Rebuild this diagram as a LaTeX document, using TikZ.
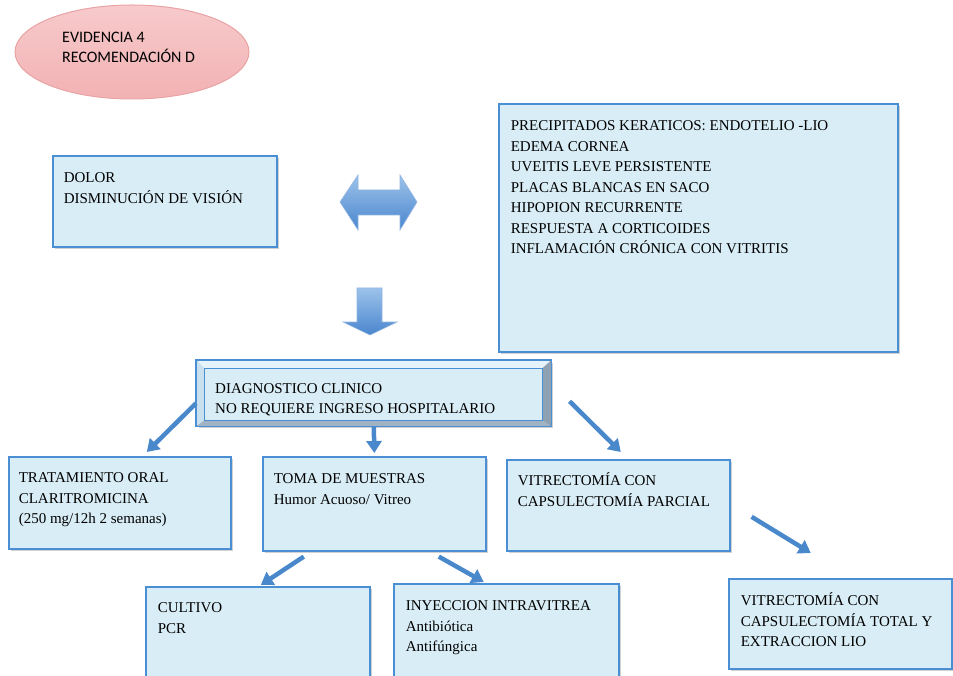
\documentclass[tikz,border=0pt]{standalone}
\usepackage{fontspec}
\setmainfont{Liberation Serif}
\newfontfamily\ellfont{Carlito}
\usetikzlibrary{arrows.meta,shadows,calc,shapes.geometric}
\definecolor{boxfill}{HTML}{D9EDF6}
\definecolor{boxline}{HTML}{4A8FD3}
\definecolor{arrowblue}{HTML}{4A88CC}
\definecolor{pinkfill}{HTML}{F2B2B4}
\definecolor{pinktop}{HTML}{F7CACB}
\definecolor{pinkline}{HTML}{E9A3A5}
\definecolor{bevlight}{HTML}{E6F3FA}
\definecolor{bevleft}{HTML}{C9E0EE}
\definecolor{bevright}{HTML}{8FA2B4}
\definecolor{bevbottom}{HTML}{A1B2C2}
\definecolor{blocktop}{HTML}{9CC2EA}
\definecolor{blockbot}{HTML}{4A86CE}
\newcommand\boxtext[5]{\parbox[c][#2pt][t]{#1pt}{\vspace*{#4pt}\fontsize{15}{20.5}\selectfont\raggedright\leftskip=#5pt\relax\strut #3}}
\tikzset{
  box/.style={draw=boxline, line width=1.6pt, fill=boxfill, inner sep=0pt, anchor=north west,
    drop shadow={shadow xshift=2pt, shadow yshift=-2.5pt, fill=black!40, opacity=.45}},
  conn/.style={draw=arrowblue, line width=4.5pt, -{Triangle[length=12pt,width=15pt]}},
  block/.style={top color=blocktop, bottom color=blockbot, draw=blockbot!60, line width=0.6pt},
}
\begin{document}
\begin{tikzpicture}[x=1pt,y=-1pt]
\useasboundingbox[fill=white] (0,0) rectangle (953,676);
% ellipse
\node[ellipse, minimum width=234pt, minimum height=94pt, draw=pinkline, line width=1pt,
  top color=pinktop, bottom color=pinkfill, inner sep=0pt] (evid) at (132,52) {};
\node[anchor=base west, inner sep=0pt, align=left, font={\ellfont\fontsize{16}{20.5}\selectfont}] (evtxt) at (62,63) {EVIDENCIA 4\\RECOMENDACIÓN D};
% boxes
\node[box] (dolor) at (52,155) {\boxtext{224}{91}{DOLOR\\DISMINUCIÓN DE VISIÓN}{12.5}{11}};
\node[box] (signos) at (498,103) {\boxtext{399}{248}{PRECIPITADOS KERATICOS: ENDOTELIO -LIO\\EDEMA CORNEA\\UVEITIS LEVE PERSISTENTE\\PLACAS BLANCAS EN SACO\\HIPOPION RECURRENTE\\RESPUESTA A CORTICOIDES\\INFLAMACIÓN CRÓNICA CON VITRITIS}{12.5}{12}};
\node[box] (diag) at (196,360) {\boxtext{354}{65}{}{0}{0}};
\fill[bevlight] (diag.north west) -- (diag.north east) -- ($(diag.north east)+(-9,8)$) -- ($(diag.north west)+(8,8)$) -- cycle;
\fill[bevleft] (diag.north west) -- ($(diag.north west)+(8,8)$) -- ($(diag.south west)+(8,-6)$) -- (diag.south west) -- cycle;
\fill[bevright] (diag.north east) -- ($(diag.north east)+(-9,8)$) -- ($(diag.south east)+(-9,-6)$) -- (diag.south east) -- cycle;
\fill[bevbottom] (diag.south west) -- ($(diag.south west)+(8,-6)$) -- ($(diag.south east)+(-9,-6)$) -- (diag.south east) -- cycle;
\draw[boxline, line width=0.5pt] ($(diag.north west)+(8,8)$) rectangle ($(diag.south east)+(-9,-6)$);
\draw[boxline, line width=1.6pt] (diag.north west) rectangle (diag.south east);
\node[anchor=north west, inner sep=0pt] (diagtxt) at (196,360) {\boxtext{354}{65}{DIAGNOSTICO CLINICO\\NO REQUIERE INGRESO HOSPITALARIO}{18.5}{19}};
\node[box] (trat) at (8,456) {\boxtext{222}{92}{TRATAMIENTO ORAL\\CLARITROMICINA\\(250 mg/12h 2 semanas)}{11.5}{10}};
\node[box] (toma) at (262,456) {\boxtext{223}{94}{TOMA DE MUESTRAS\\Humor Acuoso/ Vitreo}{12.5}{11}};
\node[box] (vit1) at (506,459) {\boxtext{223}{91}{VITRECTOMÍA CON\\CAPSULECTOMÍA PARCIAL}{11.5}{11}};
\node[box] (cult) at (145,586) {\boxtext{224}{100}{CULTIVO\\PCR}{11.5}{12}};
\node[box] (iny) at (393,583) {\boxtext{225}{100}{INYECCION INTRAVITREA\\Antibiótica\\Antifúngica}{12.5}{12}};
\node[box] (vit2) at (728,578) {\boxtext{223}{90}{VITRECTOMÍA CON\\CAPSULECTOMÍA TOTAL Y\\EXTRACCION LIO}{12.5}{12}};
% block arrows
\shade[block] (340,202) -- (358,175) -- (358,190) -- (400,190) -- (400,175) -- (417,202)
  -- (400,230) -- (400,215) -- (358,215) -- (358,230) -- cycle;
\shade[block] (357,288) -- (382,288) -- (382,322) -- (397,322) -- (370,335) -- (343,322) -- (357,322) -- cycle;
% connectors
\draw[conn] ([yshift=-10pt]diag.west) -- ([xshift=27pt,yshift=4pt]trat.north);
\draw[conn] (diag.south) -- ([yshift=3pt]toma.north);
\draw[conn] ([xshift=18pt,yshift=-8pt]diag.east) -- ([xshift=2.5pt,yshift=7pt]vit1.north);
\draw[conn] ([xshift=21pt,yshift=-11.5pt]vit1.east) -- ([xshift=-29.5pt,yshift=25pt]vit2.north);
\draw[conn] ([xshift=-70.5pt,yshift=-5pt]toma.south) -- ([xshift=3pt,yshift=1pt]cult.north);
\draw[conn] ([xshift=64.5pt,yshift=-5pt]toma.south) -- ([xshift=-22.5pt,yshift=1pt]iny.north);
\end{tikzpicture}
\end{document}
